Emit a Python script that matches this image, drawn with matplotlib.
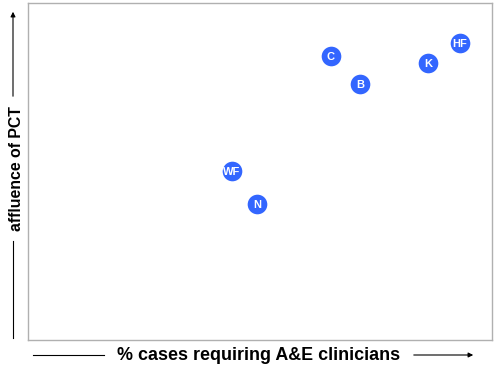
import matplotlib
matplotlib.use("Agg")
import matplotlib.pyplot as plt

plt.rcParams['font.family'] = ['Liberation Sans', 'DejaVu Sans']

labels = ['C', 'B', 'K', 'HF', 'WF', 'N']
pct_cases = [65.3, 71.6, 86.2, 93.1, 43.9, 49.4]
affluence = [84.3, 75.9, 82.2, 88.1, 50.1, 40.4]

W, H = 494, 367
fig = plt.figure(figsize=(W / 100, H / 100), dpi=100)
ax = fig.add_axes([28 / W, 1 - 340 / H, 464 / W, 337 / H])
ax.set_xlim(0, 100)
ax.set_ylim(0, 100)
ax.set_xticks([])
ax.set_yticks([])
for s in ax.spines.values():
    s.set_color('#b0b0b0')
    s.set_linewidth(1.0)

ax.scatter(pct_cases, affluence, s=200, color='#3366ff', zorder=3, linewidths=0)
for lab, x, y in zip(labels, pct_cases, affluence):
    ax.text(x, y, lab, color='white', fontsize=8, fontweight='bold',
            ha='center', va='center_baseline', zorder=4)

# axis titles with arrow lines (figure pixel coords)
def fx(px):
    return px / W

def fy(py):
    return 1 - py / H

fig.text(fx(259), fy(355), '% cases requiring A&E clinicians', fontsize=12.9,
         fontweight='bold', ha='center', va='center')
fig.add_artist(plt.Line2D([fx(33), fx(104)], [fy(355), fy(355)], color='black', lw=0.8))
fig.add_artist(matplotlib.patches.FancyArrowPatch((fx(411), fy(355)), (fx(476), fy(355)),
               transform=fig.transFigure, arrowstyle='-|>', mutation_scale=7,
               color='black', lw=0.8))

fig.text(fx(16.5), fy(169), 'affluence of PCT', fontsize=11.4, fontweight='bold',
         ha='center', va='center', rotation=90)
fig.add_artist(plt.Line2D([fx(13), fx(13)], [fy(338), fy(241)], color='black', lw=0.8))
fig.add_artist(matplotlib.patches.FancyArrowPatch((fx(13), fy(99)), (fx(13), fy(9)),
               transform=fig.transFigure, arrowstyle='-|>', mutation_scale=7,
               color='black', lw=0.8))

fig.savefig('out.png', dpi=100)
